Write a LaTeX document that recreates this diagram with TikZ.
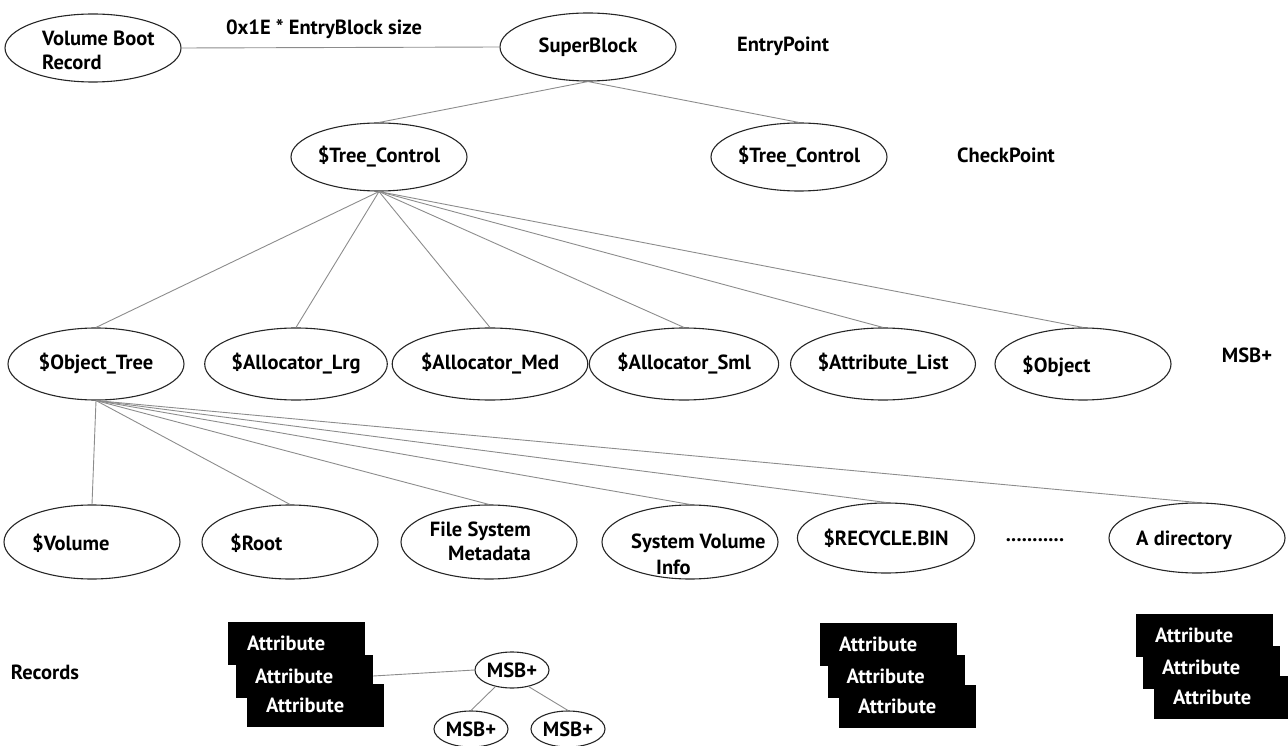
\documentclass[tikz,border=0pt]{standalone}
\usepackage{fontspec}
\setmainfont{PT Sans}
\usetikzlibrary{shapes.geometric}
\begin{document}
\begin{tikzpicture}[x=1pt,y=-1pt,
  txtfont/.style={font=\bfseries\fontsize{20.5}{24}\selectfont},
  ell/.style={draw=black!85, line width=1.1pt, ellipse, minimum width=176pt, minimum height=68pt, inner sep=0pt, txtfont},
  lbl/.style={inner sep=0pt, txtfont},
  con/.style={draw=black!45, line width=0.9pt},
  attbox/.style={fill=black, text=white, txtfont, minimum width=137pt, minimum height=43pt, inner sep=0pt, text width=99pt, align=left},
  msbell/.style={draw=black!85, line width=1.1pt, ellipse, minimum width=74pt, minimum height=36pt, inner sep=0pt, txtfont}
]
\useasboundingbox (0,0) rectangle (1288,746);

% row 1
\node[ell] (vbr) at (93,48) {};
\node[lbl, anchor=west, align=left] (vbrt) at (42,50) {Volume Boot\\Record};
\node[ell] (sb) at (588,47) {SuperBlock};
\node[lbl] (lab) at (324,29) {0x1E * EntryBlock size};
\node[lbl] (entry) at (783,46) {EntryPoint};

% row 2
\node[ell] (tc1) at (379,157) {\$Tree\_Control};
\node[ell] (tc2) at (799,157) {\$Tree\_Control};
\node[lbl] (check) at (1006,155) {CheckPoint};

% row 3
\node[ell, minimum height=72pt] (ot) at (96,364) {\$Object\_Tree};
\node[ell, minimum height=72pt] (al) at (296,364) {\$Allocator\_Lrg};
\node[ell, minimum height=72pt] (am) at (490,364) {\$Allocator\_Med};
\node[ell, minimum height=72pt] (as) at (684,364) {\$Allocator\_Sml};
\node[ell, minimum height=72pt] (alst) at (883,364) {\$Attribute\_List};
\node[ell, minimum height=72pt] (obj) at (1083,364) {};
\node[lbl, anchor=west] (objt) at (1022,366) {\$Object};
\node[lbl] (msbt) at (1247,355) {MSB+};

% row 4
\node[ell, minimum height=74pt] (vol) at (92,542) {};
\node[lbl, anchor=west] (volt) at (32,543) {\$Volume};
\node[ell, minimum height=74pt] (root) at (290,542) {};
\node[lbl, anchor=west] (roott) at (230,543) {\$Root};
\node[ell, minimum height=74pt] (fsm) at (489,542) {};
\node[lbl, anchor=east, align=right] (fsmt) at (531,541) {File System\\Metadata};
\node[ell, minimum height=74pt] (svi) at (690,542) {};
\node[lbl, anchor=west] (svit1) at (631,543) {System Volume};
\node[lbl, anchor=west] (svit2) at (656,567) {Info};
\node[ell, minimum height=70pt] (rb) at (886,538) {\$RECYCLE.BIN};
\node[lbl] (dots) at (1035,540) {...........};
\node[ell, minimum height=70pt] (ad) at (1197,538) {};
\node[lbl, anchor=west] (adt) at (1136,540) {A directory};

% records
\node[lbl] (rec) at (45,672) {Records};
\node[attbox] (a1) at (296.5,643.5) {Attribute};
\node[attbox] (a2) at (304.5,676) {Attribute};
\node[attbox] (a3) at (315.5,705) {Attribute};
\node[attbox] (b1) at (888.5,644) {Attribute};
\node[attbox] (b2) at (896,676.5) {Attribute};
\node[attbox] (b3) at (907.5,706) {Attribute};
\node[attbox] (c1) at (1204.5,635) {Attribute};
\node[attbox] (c2) at (1211.5,667.5) {Attribute};
\node[attbox] (c3) at (1222.5,697) {Attribute};

\node[msbell] (m0) at (512,670) {MSB+};
\node[msbell] (m1) at (471,729) {MSB+};
\node[msbell] (m2) at (568,729) {MSB+};

% connectors
\draw[con] (vbr.east) -- (sb.west);
\draw[con] (sb.south) -- (tc1.north);
\draw[con] (sb.south) -- (tc2.north);
\foreach \n in {ot,al,am,as,alst,obj} \draw[con] (tc1.south) -- (\n.north);
\foreach \n in {vol,root,fsm,svi,rb,ad} \draw[con] (ot.south) -- (\n.north);
\draw[con] (a2.east) -- (m0.west);
\draw[con] (m0.225) -- (m1.north);
\draw[con] (m0.315) -- (m2.north);
\end{tikzpicture}
\end{document}
